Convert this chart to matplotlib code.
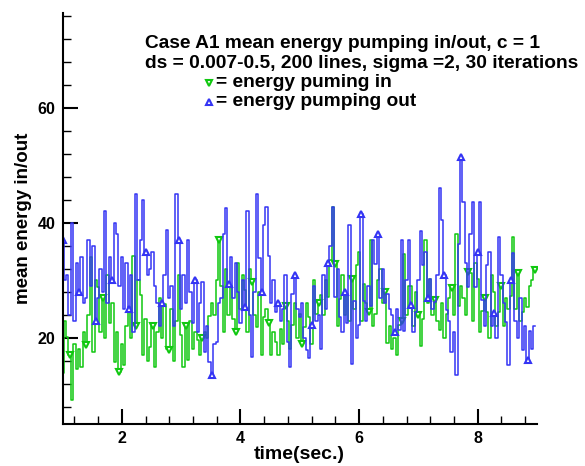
import numpy as np
import matplotlib.pyplot as plt
from matplotlib.lines import Line2D
from matplotlib.ticker import MultipleLocator

plt.rcParams['font.family'] = ['Liberation Sans', 'DejaVu Sans']
plt.rcParams['font.weight'] = 'bold'

# sample times (sec.), one value every 0.04 s
time = np.round(1.0 + 0.04 * np.arange(200), 2)

# mean energy pumping out (blue)
energy_out = [
    37, 30, 31, 24, 40, 23, 33, 28, 34, 26,
    27, 37, 29, 36, 23, 27, 32, 28, 42, 26,
    34, 30, 40, 38, 29, 34, 25, 33, 25, 31,
    21, 45, 30, 37, 44, 35, 31, 32, 35, 29,
    26, 22, 26, 31, 38.7, 27, 29, 22, 45, 37,
    25, 31, 26, 37, 28, 22.5, 30, 21, 26, 29.7,
    17.5, 22, 15.8, 13.5, 19, 19.3, 26, 27, 38, 42.5,
    29.4, 34, 27, 33, 28, 22.5, 30, 25.4, 42, 24,
    16.7, 28, 45, 33.8, 28, 39.6, 42.7, 34.3, 26, 30,
    24.5, 26, 23, 25, 31, 19.3, 15, 27.7, 31, 25,
    23.6, 26, 20, 17.9, 16.4, 22.2, 29, 23, 23.9, 18,
    31, 25, 33, 36, 42.7, 27.1, 32, 23.7, 21, 28,
    22.5, 39.6, 15.5, 26.4, 20, 22.3, 41.6, 26.4, 23, 29,
    25.6, 37, 32.9, 38, 27, 32, 26, 27.7, 25, 23.9,
    21, 25, 21.3, 37, 21.2, 30, 37, 25.7, 21, 24.5,
    30, 38.5, 32.6, 35, 27, 30.3, 25, 26.3, 31, 46,
    40.5, 31, 24.9, 23, 17.6, 21, 13.5, 36.4, 51.5, 43.7,
    33, 28.9, 38, 43.7, 28.9, 35, 43.7, 26.6, 22, 32.7,
    35, 22, 24.3, 20, 37.6, 30.9, 26, 22.8, 15.3, 30,
    34.7, 23, 19.9, 27, 17.9, 22, 16.1, 21.1, 18, 22,
]

# mean energy pumping in (green)
energy_in = [
    13.8, 23, 20.1, 17, 9.1, 19, 14.6, 18, 14.9, 21,
    18.7, 24, 34, 17.5, 30, 28.8, 21, 27, 20, 31,
    22.5, 26, 15.8, 21, 14, 19, 15.2, 22, 25.4, 20,
    34.2, 22, 30, 27.4, 17, 23.3, 16, 18.4, 22, 15,
    21, 27, 20, 25.9, 18, 17.8, 25, 16, 23, 31,
    20.4, 15, 22, 16.1, 23, 18, 21, 19.6, 17, 19.9,
    21, 20, 23.8, 26, 24, 30, 37, 29, 21, 32,
    24, 29, 23.3, 21, 33, 25, 31, 28.3, 21, 32,
    29.7, 24, 21.9, 28, 17, 23.7, 25, 22.5, 17, 21,
    19.3, 17, 21.6, 19, 25.6, 23, 18, 22.2, 26, 20,
    24.2, 19, 21.9, 26, 23.6, 19, 30, 24.2, 26, 27.4,
    24, 30, 27.1, 33.5, 42.7, 32.9, 22, 26.8, 31, 24,
    27.7, 23, 30.3, 25, 32.6, 35, 23, 29.3, 26, 24.5,
    37, 22, 24.2, 30, 32, 26, 28, 19.1, 22, 18.1,
    20, 17, 22.3, 23, 34.6, 24, 29, 29, 22, 28,
    24, 18.5, 23.2, 37, 26, 30.2, 24, 26.5, 23, 21.4,
    26, 20, 24.1, 27, 28.6, 24, 38, 25.5, 29, 26.9,
    24, 31.5, 31.2, 23, 33, 30.2, 21, 24.7, 27, 24.4,
    20, 31, 28, 22, 24.5, 29, 22, 27, 25, 27.2,
    37.6, 25, 31.2, 23, 24.5, 27, 25.4, 29, 30.1, 31.8,
]

title_lines = ['Case A1 mean energy pumping in/out, c = 1',
               'ds = 0.007-0.5, 200 lines, sigma =2, 30 iterations']
legend_labels = ['= energy puming in', '= energy pumping out']

green = '#10c810'
blue = '#3434f4'
mk = dict(ms=5, mfc='white', mew=1.5)

fig = plt.figure(figsize=(5.85, 4.66), dpi=100)
ax = fig.add_axes([62.5 / 585, 42 / 466, 474.5 / 585, 411 / 466])

ax.plot(time, energy_in, color=green, lw=1.1, drawstyle='steps-mid')
ax.plot(time, energy_in, ls='none', marker='v', markevery=(3, 7), mec=green, **mk)
ax.plot(time, energy_out, color=blue, lw=1.1, drawstyle='steps-mid')
ax.plot(time, energy_out, ls='none', marker='^', markevery=(0, 7), mec=blue, **mk)

ax.set_xlim(1, 9)
ax.set_ylim(5, 76.5)
ax.xaxis.set_major_locator(MultipleLocator(2))
ax.xaxis.set_minor_locator(MultipleLocator(0.4))
ax.yaxis.set_major_locator(MultipleLocator(20))
ax.yaxis.set_minor_locator(MultipleLocator(4))

for side in ('top', 'right'):
    ax.spines[side].set_visible(False)
for side in ('left', 'bottom'):
    ax.spines[side].set_linewidth(1.5)

ax.tick_params(which='major', direction='in', length=11, width=1.5,
               labelsize=11.5, pad=5)
ax.tick_params(which='minor', direction='in', length=6, width=1.0)
for lab in ax.get_xticklabels() + ax.get_yticklabels():
    lab.set_fontweight('bold')

ax.set_xlabel('time(sec.)', fontsize=14, fontweight='bold', labelpad=0)
ax.set_ylabel('mean energy in/out', fontsize=13.5, fontweight='bold', labelpad=4)

# title block and hand-made legend
for i, line in enumerate(title_lines):
    fig.text(145 / 585, 1 - (44 + 19 * i) / 466, line, fontsize=13.8,
             fontweight='bold', va='center', ha='left')
for i, (lab, m, col) in enumerate(zip(legend_labels, ['v', '^'], [green, blue])):
    yy = 1 - (83 + 19 * i) / 466
    fig.add_artist(Line2D([209 / 585], [yy], marker=m, ls='none', mec=col,
                          transform=fig.transFigure, **mk))
    fig.text(216 / 585, yy, lab, fontsize=13.8, fontweight='bold',
             va='center', ha='left')

fig.savefig('out.png', dpi=100)
